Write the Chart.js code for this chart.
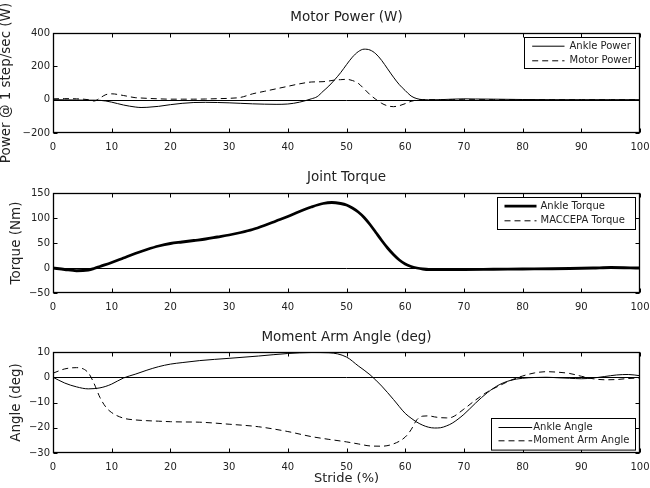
<!DOCTYPE html>
<html lang="en">
<head>
<meta charset="UTF-8">
<title>Stride plots</title>
<script src="https://cdn.jsdelivr.net/npm/chart.js"></script>
<style>
  body { margin: 0; background: #fff; }
  .panel { position: absolute; left: 0; width: 650px; }
</style>
</head>
<body>
<div class="panel" style="top:0;height:175px"><canvas id="powerChart"></canvas></div>
<div class="panel" style="top:160px;height:160px"><canvas id="torqueChart"></canvas></div>
<div class="panel" style="top:320px;height:168px"><canvas id="angleChart"></canvas></div>

<script>
// --- data ---
const stridePower = [0, 2, 4, 6, 7, 8, 9, 10, 12, 14, 15, 16, 18, 20, 22, 24, 26, 28, 30, 32, 34, 36, 38, 40, 42, 44, 45, 46, 47, 48, 49, 50, 51, 52, 53, 54, 55, 56, 57, 58, 59, 60, 61, 62, 63, 64, 66, 68, 70, 72, 75, 80, 85, 90, 95, 100];
const anklePower = [0, -1, -2, -3, -3, -4, -8, -15, -32, -44, -47, -46, -40, -30, -22, -17, -16, -17, -19, -22, -25, -27, -28, -26, -15, 5, 18, 50, 82, 120, 162, 210, 255, 288, 303, 298, 275, 235, 185, 135, 90, 55, 22, 6, 0, -1, 0, 3, 5, 4, 3, 1, 0, 0, 0, 0];
const motorPower = [5, 6, 5, 0, -8, 10, 30, 35, 25, 12, 10, 8, 5, 3, 3, 3, 4, 6, 8, 14, 35, 50, 65, 80, 95, 106, 107, 108, 112, 118, 120, 122, 115, 98, 65, 30, 2, -22, -37, -42, -36, -24, -10, -2, 0, 0, 0, 0, 0, 0, 0, 0, 0, 0, 0, 0];

const strideTorque = [0, 2, 4, 6, 7, 8, 10, 12, 14, 16, 18, 20, 22, 24, 26, 28, 30, 32, 34, 36, 38, 40, 42, 44, 46, 47.5, 49, 50, 51, 52, 53, 54, 55, 56, 57, 58, 59, 60, 61, 62, 63, 64, 66, 70, 75, 80, 85, 88, 92, 95, 100];
const ankleTorque = [0, -3, -5.5, -4, -1, 3, 11, 20, 29, 37, 44, 49, 52, 55, 58, 62, 66, 71, 77, 85, 94, 103, 113, 122, 129, 131, 129, 126, 120, 112, 101, 87, 71, 55, 40, 27, 16, 8, 3, 0, -2, -3, -3, -3, -2.5, -2, -1.5, -1, 0, 1, 0];
const maccepaTorque = [0, -3, -5.5, -4, -1, 3, 11, 20, 29, 37, 44, 49, 52, 55, 58, 62, 66, 71, 77, 85, 94, 103, 113, 122, 129, 131, 129, 126, 120, 112, 101, 87, 71, 55, 40, 27, 16, 8, 3, 0, -2, -3, -3, -3, -2.5, -2, -1.5, -1, 0, 1, 0];

const strideAngle = [0, 2, 4, 6, 7, 8, 9, 10, 12, 14, 16, 18, 20, 22, 25, 30, 35, 40, 44, 47, 50, 52, 54, 56, 58, 60, 61, 62, 63, 64, 65, 66, 67, 68, 70, 72, 74, 76, 78, 80, 82, 84, 86, 88, 90, 92, 94, 96, 98, 100];
const ankleAngle = [0, -2.3, -3.8, -4.6, -4.5, -4.2, -3.6, -2.7, -0.3, 1.2, 2.8, 4.2, 5.2, 5.8, 6.6, 7.5, 8.4, 9.4, 9.8, 9.7, 8.0, 4.5, 1.0, -3.5, -8.8, -14.3, -16.2, -17.8, -19.0, -19.8, -20.1, -20.0, -19.3, -18.2, -14.7, -10.2, -6.1, -3.0, -1.2, -0.4, -0.1, 0, -0.2, -0.4, -0.6, -0.3, 0.3, 0.9, 1.1, 0.6];
const momentArmAngle = [1.6, 3.3, 3.8, 1.8, -2.5, -8, -11.8, -14, -16.2, -16.9, -17.2, -17.4, -17.6, -17.7, -17.8, -18.6, -19.6, -21.5, -23.5, -24.6, -25.6, -26.4, -27.2, -27.3, -26.4, -23.7, -20.8, -16.8, -15.4, -15.3, -15.7, -16.0, -16.1, -15.8, -12.6, -9.0, -5.8, -3.4, -1.2, 0.5, 1.7, 2.2, 2.0, 1.5, 0.4, -0.6, -1.0, -0.9, -0.5, -0.3];

const xTicks = { min: 0, max: 100, step: 10 };

const FONT = 'DejaVu Sans';
const INK = '#000';
const TEXT = '#222';

function pts(xs, ys) { return xs.map((x, i) => ({ x: x, y: ys[i] })); }
// matlab prints a real minus sign
function minusLabel(v) { return v < 0 ? '\u2212' + Math.abs(v) : String(v); }

// MATLAB-ish box: zero line, frame, inward ticks, boxed legend
const framePlugin = {
  id: 'frame',
  beforeDatasetsDraw(chart) {
    const { ctx, chartArea: a, scales: { y } } = chart;
    const y0 = Math.round(y.getPixelForValue(0)) + 0.5;
    ctx.save();
    ctx.strokeStyle = INK;
    ctx.lineWidth = 1;
    ctx.beginPath();
    ctx.moveTo(a.left, y0);
    ctx.lineTo(a.right, y0);
    ctx.stroke();
    ctx.restore();
  },
  afterDatasetsDraw(chart, args, opts) {
    const { ctx, chartArea: a, scales: { x, y } } = chart;
    const L = Math.round(a.left) + 0.5, R = Math.round(a.right) - 0.5;
    const T = Math.round(a.top) + 0.5, B = Math.round(a.bottom) - 0.5;
    const tl = 4;
    ctx.save();
    ctx.strokeStyle = INK;
    ctx.lineWidth = 1.3;
    ctx.strokeRect(L, T, R - L, B - T);
    ctx.lineWidth = 1;
    ctx.beginPath();
    x.ticks.forEach(t => {
      const px = Math.round(x.getPixelForValue(t.value)) + 0.5;
      ctx.moveTo(px, B); ctx.lineTo(px, B - tl);
      ctx.moveTo(px, T); ctx.lineTo(px, T + tl);
    });
    y.ticks.forEach(t => {
      const py = Math.round(y.getPixelForValue(t.value)) + 0.5;
      ctx.moveTo(L, py); ctx.lineTo(L + tl, py);
      ctx.moveTo(R, py); ctx.lineTo(R - tl, py);
    });
    ctx.stroke();

    // legend box
    const lg = opts.legend;
    if (lg) {
      const bx = Math.round(a.right - 5 - lg.w) + 0.5;
      const by = Math.round(lg.anchor === 'top' ? a.top + lg.offset : a.bottom - lg.offset - lg.h) + 0.5;
      ctx.fillStyle = '#fff';
      ctx.fillRect(bx, by, lg.w, lg.h);
      ctx.strokeStyle = INK;
      ctx.lineWidth = 1;
      ctx.strokeRect(bx, by, lg.w, lg.h);
      ctx.font = '10px "' + FONT + '"';
      ctx.textBaseline = 'middle';
      ctx.textAlign = 'left';
      chart.data.datasets.forEach((ds, i) => {
        const ry = by + lg.rows[i];
        ctx.beginPath();
        ctx.setLineDash(ds.borderDash || []);
        ctx.lineWidth = ds.borderWidth;
        ctx.strokeStyle = INK;
        ctx.moveTo(bx + lg.sampleX, ry);
        ctx.lineTo(bx + lg.sampleX + lg.sampleLen, ry);
        ctx.stroke();
        ctx.setLineDash([]);
        ctx.fillStyle = TEXT;
        ctx.fillText(ds.label, bx + lg.textX, ry);
      });
    }
    ctx.restore();
  }
};

function makeChart(id, c) {
  return new Chart(document.getElementById(id), {
    type: 'line',
    data: { datasets: c.datasets },
    options: {
      responsive: true,
      maintainAspectRatio: false,
      animation: false,
      layout: { padding: { left: 0, right: 0, top: 0, bottom: c.padBottom } },
      elements: {
        point: { radius: 0 },
        line: { cubicInterpolationMode: 'monotone', borderColor: INK, borderWidth: 1 }
      },
      plugins: {
        legend: { display: false },
        tooltip: { enabled: false },
        title: {
          display: true, text: c.title, fullSize: false, color: TEXT,
          font: { family: FONT, size: 13.5, weight: 'normal', lineHeight: 1.2 },
          padding: { top: 8.9, bottom: c.titleGap }
        },
        frame: { legend: c.legend }
      },
      scales: {
        x: {
          type: 'linear', min: xTicks.min, max: xTicks.max,
          ticks: { stepSize: xTicks.step, color: TEXT, padding: 8, font: { family: FONT, size: 10 }, maxRotation: 0 },
          grid: { display: false, drawTicks: false },
          border: { display: false },
          title: {
            display: !!c.xTitle, text: c.xTitle, color: TEXT,
            font: { family: FONT, size: 13, lineHeight: 1.2 }, padding: { top: 0, bottom: 2 }
          },
          afterFit: s => { s.height = c.xHeight; s.paddingLeft = 0; s.paddingRight = 10; }
        },
        y: {
          min: c.yMin, max: c.yMax,
          ticks: { stepSize: c.yStep, color: TEXT, padding: 3, font: { family: FONT, size: 10 }, callback: minusLabel },
          grid: { display: false, drawTicks: false },
          border: { display: false },
          title: {
            display: true, text: c.yTitle, color: TEXT,
            font: { family: FONT, size: 13.5, lineHeight: c.yTitleLH }, padding: { top: c.yTitlePad, bottom: 0 }
          },
          afterFit: s => { s.width = 53; }
        }
      }
    },
    plugins: [framePlugin]
  });
}

makeChart('powerChart', {
  title: 'Motor Power (W)',
  yTitle: 'Power @ 1 step/sec (W)', yTitleLH: 1, yTitlePad: 0,
  yMin: -200, yMax: 400, yStep: 200,
  padBottom: 15, xHeight: 27, titleGap: 7.9,
  legend: { w: 111, h: 31, anchor: 'top', offset: 4, sampleX: 7.7, sampleLen: 32.3, textX: 45, rows: [8.7, 23.3] },
  datasets: [
    { label: 'Ankle Power', data: pts(stridePower, anklePower), borderWidth: 1 },
    { label: 'Motor Power', data: pts(stridePower, motorPower), borderWidth: 1, borderDash: [6, 4] }
  ]
});

makeChart('torqueChart', {
  title: 'Joint Torque',
  yTitle: 'Torque (Nm)', yTitleLH: 1.2, yTitlePad: 8,
  yMin: -50, yMax: 150, yStep: 50,
  padBottom: 0, xHeight: 27, titleGap: 7.9,
  legend: { w: 138, h: 32, anchor: 'top', offset: 4, sampleX: 7, sampleLen: 32, textX: 43, rows: [8.7, 23.3] },
  datasets: [
    { label: 'Ankle Torque', data: pts(strideTorque, ankleTorque), borderWidth: 2.8 },
    { label: 'MACCEPA Torque', data: pts(strideTorque, maccepaTorque), borderWidth: 1, borderDash: [6, 4] }
  ]
});

makeChart('angleChart', {
  title: 'Moment Arm Angle (deg)',
  yTitle: 'Angle (deg)', yTitleLH: 1.2, yTitlePad: 8,
  yMin: -30, yMax: 10, yStep: 10,
  padBottom: 0, xHeight: 35, titleGap: 6.9, xTitle: 'Stride (%)',
  legend: { w: 144, h: 31.6, anchor: 'bottom', offset: 3.7, sampleX: 7, sampleLen: 33.7, textX: 41.7, rows: [9, 22.3] },
  datasets: [
    { label: 'Ankle Angle', data: pts(strideAngle, ankleAngle), borderWidth: 1 },
    { label: 'Moment Arm Angle', data: pts(strideAngle, momentArmAngle), borderWidth: 1, borderDash: [6, 4] }
  ]
});
</script>
</body>
</html>
